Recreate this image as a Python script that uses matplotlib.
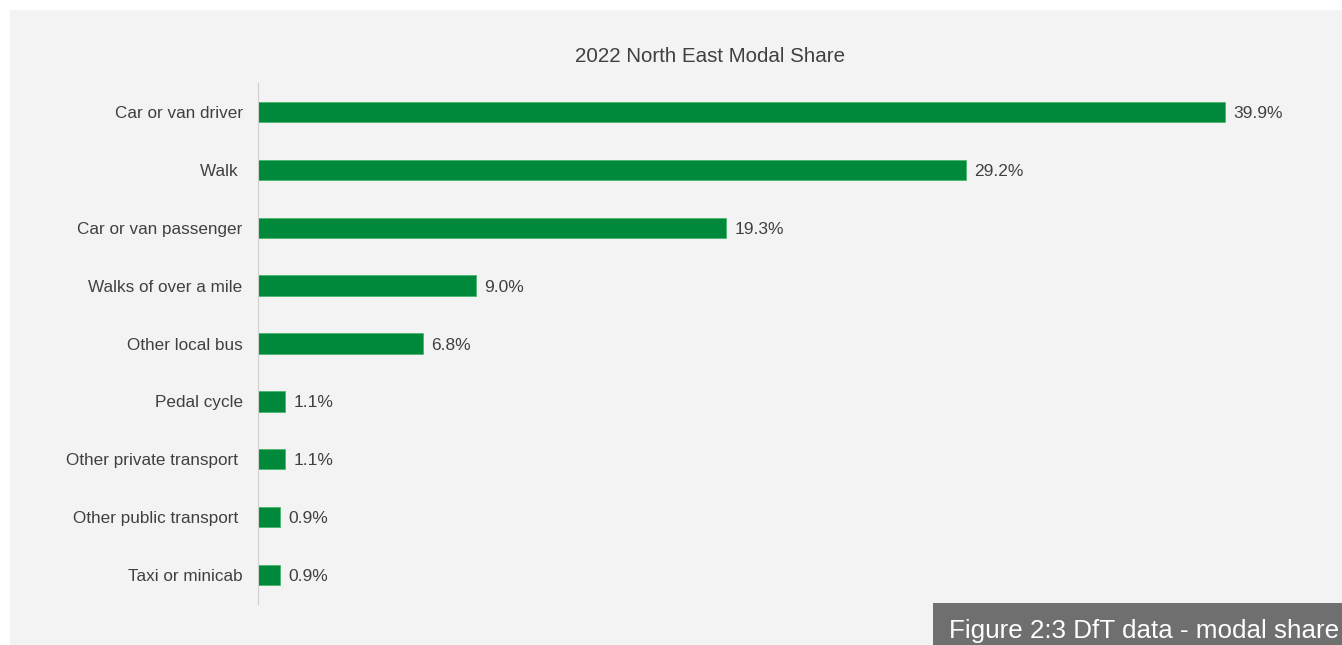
import matplotlib.pyplot as plt
from matplotlib.patches import Rectangle

plt.rcParams['font.family'] = ['Liberation Sans', 'DejaVu Sans']

categories = ["Car or van driver", "Walk ", "Car or van passenger", "Walks of over a mile",
              "Other local bus", "Pedal cycle", "Other private transport ",
              "Other public transport ", "Taxi or minicab"]
shares = [39.9, 29.2, 19.3, 9.0, 6.8, 1.1, 1.1, 0.9, 0.9]
title = "2022 North East Modal Share"
caption = "Figure 2:3 DfT data - modal share"

W, H = 1342, 645
fig = plt.figure(figsize=(W / 100, H / 100), dpi=100)
fig.patch.set_facecolor("white")

# grey panel behind everything
fig.patches.append(Rectangle((10 / W, 0), 1, 1 - 10 / H, transform=fig.transFigure,
                             facecolor="#f3f3f3", edgecolor="none", zorder=-10))

xmax = 44
px_per_unit = (1225 - 258) / 39.9
left, right = 258 / W, (258 + xmax * px_per_unit) / W
bottom, top = 1 - 604 / H, 1 - 83 / H
ax = fig.add_axes([left, bottom, right - left, top - bottom])
ax.set_facecolor("none")

ypos = list(range(len(categories)))
ax.barh(ypos, shares, height=0.35, color="#00893a", edgecolor="#3fb565", linewidth=0.5)
ax.set_ylim(len(categories) - 0.5, -0.5)
ax.set_xlim(0, xmax)

for y, v in zip(ypos, shares):
    ax.text(v + 0.35, y, f"{v:.1f}%", va="center_baseline", ha="left", fontsize=12.5,
            color="#404040")

ax.set_yticks(ypos)
ax.set_yticklabels(categories, fontsize=12.3, color="#404040")
ax.tick_params(axis="y", length=0, pad=11)
ax.set_xticks([])
for s in ["top", "right", "bottom"]:
    ax.spines[s].set_visible(False)
ax.spines["left"].set_color("#d0d0d0")

fig.text(710 / W, 1 - 56 / H, title, ha="center", va="center", fontsize=14.8, color="#404040")

# caption box
fig.patches.append(Rectangle((933 / W, 0), 1, 42 / H, transform=fig.transFigure,
                             facecolor="#6f6f6f", edgecolor="none", zorder=5))
fig.text(1339 / W, 14 / H, caption, ha="right", va="center", fontsize=18.7, color="white",
         zorder=6)

fig.savefig("out.png", dpi=100, facecolor=fig.get_facecolor())
